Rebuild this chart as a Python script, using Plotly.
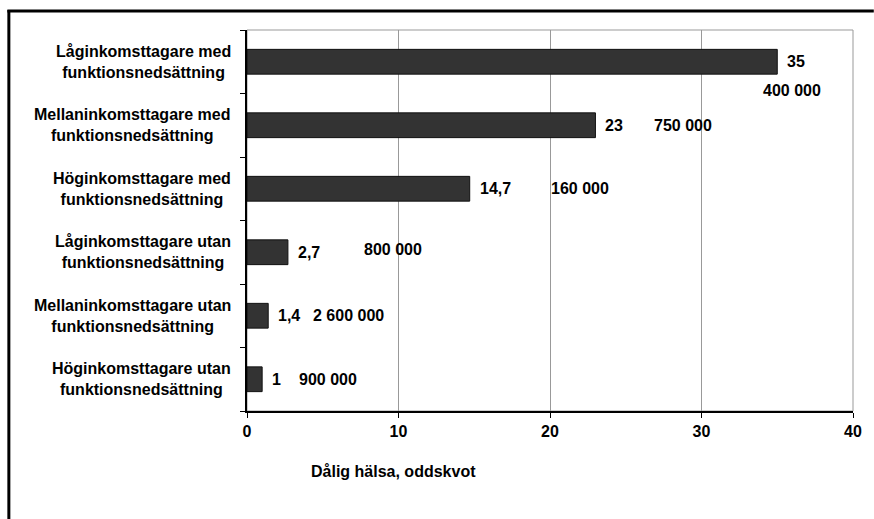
import plotly.graph_objects as go

categories = [
    "Låginkomsttagare med<br>funktionsnedsättning",
    "Mellaninkomsttagare med<br>funktionsnedsättning",
    "Höginkomsttagare med<br>funktionsnedsättning",
    "Låginkomsttagare utan<br>funktionsnedsättning",
    "Mellaninkomsttagare utan<br>funktionsnedsättning",
    "Höginkomsttagare utan<br>funktionsnedsättning",
]
odds = [35, 23, 14.7, 2.7, 1.4, 1]
odds_labels = ["35", "23", "14,7", "2,7", "1,4", "1"]
population_labels = ["400 000", "750 000", "160 000", "800 000", "2 600 000", "900 000"]
population_x = [35.95, 28.8, 22.0, 9.64, 6.67, 5.33]
population_y = [0.46, 1.0, 2.0, 2.95, 4.0, 5.0]
x_ticks = [0, 10, 20, 30, 40]

W, H = 874, 519
L, R, T, B = 247, 15, 30, 108
pw, ph = W - L - R, H - T - B

def px_x(px):
    return (px - L) / pw

def px_y(py):
    return (H - B - py) / ph

FONT = "Liberation Sans, Arial, sans-serif"
fnt = dict(family=FONT, size=16, color="black")

fig = go.Figure()
idx = list(range(len(categories)))
fig.add_trace(go.Bar(
    x=odds, y=idx, orientation="h",
    width=0.39,
    marker=dict(color="#333333", line=dict(color="#111111", width=1)),
    hoverinfo="skip",
))

annotations = []
for i, c in enumerate(categories):
    annotations.append(dict(
        x=px_x(233), xref="paper", y=i, yref="y", text="<b>" + c + "</b>",
        showarrow=False, xanchor="right", yanchor="middle", align="center",
        font=fnt,
    ))
for i, (v, lab) in enumerate(zip(odds, odds_labels)):
    annotations.append(dict(
        x=v, xref="x", y=i, yref="y", text="<b>" + lab + "</b>",
        showarrow=False, xanchor="left", yanchor="middle", xshift=8,
        font=fnt,
    ))
for lab, xv, yv in zip(population_labels, population_x, population_y):
    annotations.append(dict(
        x=xv, xref="x", y=yv, yref="y", text="<b>" + lab + "</b>",
        showarrow=False, xanchor="center", yanchor="middle", font=fnt,
    ))
annotations.append(dict(
    x=px_x(395), xref="paper", y=px_y(471), yref="paper",
    text="<b>Dålig hälsa, oddskvot</b>", showarrow=False,
    xanchor="center", yanchor="middle", font=fnt,
))

shapes = [
    dict(type="rect", xref="paper", yref="paper", x0=0, x1=1, y0=0, y1=1,
         line=dict(color="#999999", width=1), layer="below"),
    dict(type="line", xref="paper", yref="paper", x0=px_x(5), x1=px_x(880),
         y0=px_y(11), y1=px_y(11), line=dict(color="black", width=3)),
    dict(type="line", xref="paper", yref="paper", x0=px_x(6.5), x1=px_x(6.5),
         y0=px_y(10), y1=px_y(530), line=dict(color="black", width=3)),
]

fig.update_layout(
    width=W, height=H,
    margin=dict(l=L, r=R, t=T, b=B),
    paper_bgcolor="white", plot_bgcolor="white",
    showlegend=False,
    font=fnt,
    annotations=annotations,
    shapes=shapes,
)
fig.update_xaxes(
    range=[0, 40], tickvals=x_ticks, ticktext=["<b>%d</b>" % v for v in x_ticks],
    showgrid=True, gridcolor="#999999", gridwidth=1,
    showline=True, linecolor="black", linewidth=1.5,
    ticks="outside", ticklen=5, tickcolor="black",
    zeroline=False, tickfont=fnt,
)
fig.update_yaxes(
    range=[5.5, -0.5], tickvals=[i + 0.5 for i in range(-1, 6)],
    ticktext=[""] * 7,
    showgrid=False, showline=True, linecolor="black", linewidth=1.5,
    ticks="outside", ticklen=5, tickcolor="black", zeroline=False,
)

fig.write_html("out.html")
